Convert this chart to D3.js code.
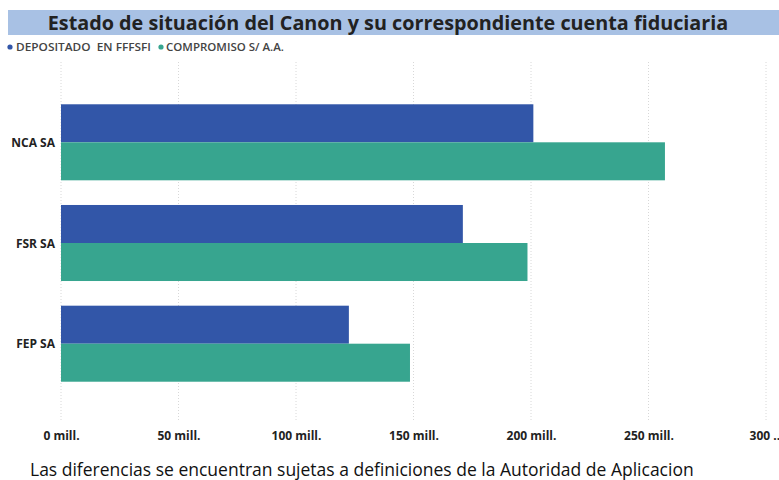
<!DOCTYPE html>
<html>
<head>
<meta charset="utf-8">
<script src="https://cdn.jsdelivr.net/npm/d3@7"></script>
<style>
  body { margin: 0; background: #fff; }
  text { font-family: "Open Sans", "DejaVu Sans", sans-serif; }
</style>
</head>
<body>
<div class="canvas"></div>
<script>
const categories = ['NCA SA', 'FSR SA', 'FEP SA'];
const seriesNames = ['DEPOSITADO  EN FFFSFI', 'COMPROMISO S/ A.A.'];
const depositado = [201, 171, 122.5];
const compromiso = [257, 198.5, 148.5];
const tickValues = [0, 50, 100, 150, 200, 250, 300];
const tickLabels = ['0 mill.', '50 mill.', '100 mill.', '150 mill.', '200 mill.', '250 mill.', '300 ...'];
const colours = ['#3256A8', '#37A58F'];

const dims = { width: 779, height: 480 };

const svg = d3.select('.canvas')
    .append('svg')
    .attr('width', dims.width)
    .attr('height', dims.height)
;

// title banner
svg.append('rect')
    .attr('x', 8).attr('y', 10)
    .attr('width', dims.width - 8).attr('height', 25)
    .attr('fill', '#A8C1E4');

svg.append('text')
    .attr('x', 388).attr('y', 30)
    .attr('text-anchor', 'middle')
    .attr('font-size', 19.8)
    .attr('font-weight', 700)
    .attr('fill', '#222')
    .text('Estado de situación del Canon y su correspondiente cuenta fiduciaria');

// legend
const legendPos = [{ dot: 10, text: 16, len: 135 }, { dot: 161, text: 166, len: 118 }];
const legend = svg.selectAll('g.legend')
    .data(seriesNames)
    .enter()
    .append('g')
        .attr('class', 'legend');

legend.append('circle')
    .attr('cx', (d, i) => legendPos[i].dot)
    .attr('cy', 47)
    .attr('r', 2.6)
    .attr('fill', (d, i) => colours[i]);

legend.append('text')
    .attr('x', (d, i) => legendPos[i].text)
    .attr('y', 51)
    .attr('font-size', 10.5)
    .attr('font-weight', 600)
    .attr('textLength', (d, i) => legendPos[i].len)
    .attr('lengthAdjust', 'spacingAndGlyphs')
    .attr('fill', '#444')
    .style('white-space', 'pre')
    .text(d => d);

// scales
const x = d3.scaleLinear()
    .domain([0, 300])
    .range([61, 766]);

const y = d3.scaleBand()
    .domain(categories)
    .range([92, 394])
    .paddingInner(0.245)
    .paddingOuter(0.122);

const ySub = d3.scaleBand()
    .domain([0, 1])
    .range([0, y.bandwidth()]);

// gridlines
svg.append('g')
    .selectAll('line')
    .data(tickValues)
    .enter()
    .append('line')
        .attr('x1', d => x(d)).attr('x2', d => x(d))
        .attr('y1', 62).attr('y2', 422)
        .attr('stroke', '#d8d8d8')
        .attr('stroke-dasharray', '1,2');

// bars
const groups = svg.selectAll('g.cat')
    .data(categories)
    .enter()
    .append('g')
        .attr('class', 'cat')
        .attr('transform', d => `translate(0, ${y(d)})`);

groups.selectAll('rect')
    .data((d, i) => [depositado[i], compromiso[i]])
    .enter()
    .append('rect')
        .attr('x', x(0))
        .attr('y', (d, j) => ySub(j))
        .attr('width', d => x(d) - x(0))
        .attr('height', ySub.bandwidth())
        .attr('fill', (d, j) => colours[j]);

// category labels
svg.append('g')
    .selectAll('text')
    .data(categories)
    .enter()
    .append('text')
        .attr('x', 55)
        .attr('y', d => y(d) + y.bandwidth() / 2 + 4.5)
        .attr('text-anchor', 'end')
        .attr('font-size', 12)
        .attr('font-weight', 700)
        .attr('fill', '#222')
        .text(d => d);

// x axis
const xAxis = d3.axisBottom(x)
    .tickValues(tickValues)
    .tickFormat((d, i) => tickLabels[i])
    .tickSize(0);

svg.append('g')
    .attr('transform', 'translate(0, 428)')
    .call(xAxis)
    .call(g => g.select('.domain').remove())
    .selectAll('text')
        .attr('font-size', 12)
        .attr('font-weight', 700)
        .attr('fill', '#222')
        .style('font-family', '"Open Sans", sans-serif');

// caption
svg.append('text')
    .attr('x', 30).attr('y', 476)
    .attr('font-size', 17.5)
    .attr('fill', '#111')
    .text('Las diferencias se encuentran sujetas a definiciones de la Autoridad de Aplicacion');
</script>
</body>
</html>
